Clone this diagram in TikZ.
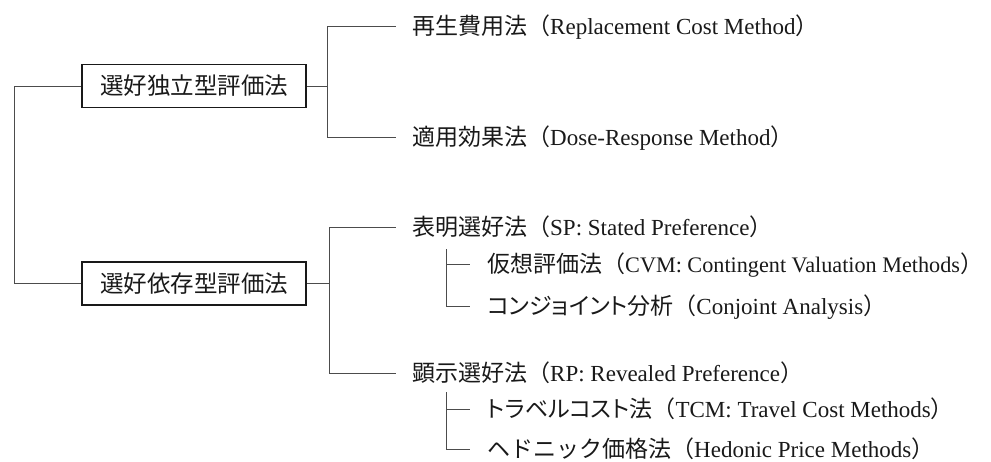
\documentclass[tikz,border=0pt]{standalone}
\usepackage{fontspec}
\setmainfont{Liberation Serif}
\newfontfamily\jp{Noto Sans CJK JP}
\newfontfamily\jpp{Noto Sans CJK JP}[RawFeature=+palt]
\newcommand{\rparen}{\makebox[0.45em][l]{\jp ）}}
\begin{document}
\begin{tikzpicture}[x=1pt,y=-1pt,
  conn/.style={draw=black!70,line width=1pt},
  catbox/.style={draw=black!90,line width=1.5pt,minimum width=224pt,minimum height=43pt,inner sep=0pt,
    font=\jp\fontsize{23.5}{26}\selectfont,text=black!90},
  item/.style={anchor=west,inner sep=0pt,text height=20pt,text depth=2.6pt,
    font=\fontsize{23}{26}\selectfont,text=black!90}]
\useasboundingbox (0,0) rectangle (991,461);
\node[catbox] (b1) at (194,86) {選好独立型評価法};
\node[catbox] (b2) at (194,283.5) {選好依存型評価法};
\node[item] (t1) at (412,26) {{\jp 再生費用法（}Replacement Cost Method\rparen};
\node[item] (t2) at (412,137) {{\jp 適用効果法（}Dose-Response Method\rparen};
\node[item] (t3) at (412,227) {{\jp 表明選好法（}SP: Stated Preference\rparen};
\node[item] (t4) at (487,264) {{\jp 仮想評価法（}{\fontsize{22.2}{26}\selectfont CVM: Contingent Valuation Methods}\rparen};
\node[item] (t5) at (487,306) {{\jpp コンジョイント}{\jp 分析（}Conjoint Analysis\rparen};
\node[item] (t6) at (412,373) {{\jp 顕示選好法（}RP: Revealed Preference\rparen};
\node[item] (t7) at (487,409) {{\jpp トラベルコスト}{\jp 法（}TCM: Travel Cost Methods\rparen};
\node[item] (t8) at (487,449) {{\jp ヘドニック価格法（}Hedonic Price Methods\rparen};
\coordinate (r0) at (14,86);
\coordinate (j1) at (327,86);
\coordinate (j2) at (329,283.5);
\coordinate (s1) at (446,249);
\coordinate (s2) at (446,392);
\draw[conn] (b1.west) -- (r0) |- (b2.west);
\draw[conn] (b1.east) -- (j1);
\draw[conn,shorten >=16pt] (j1) |- (t1.west);
\draw[conn,shorten >=16pt] (j1) |- (t2.west);
\draw[conn] (b2.east) -- (j2);
\draw[conn,shorten >=16pt] (j2) |- (t3.west);
\draw[conn,shorten >=16pt] (j2) |- (t6.west);
\draw[conn,shorten >=17pt] (s1) |- (t4.west);
\draw[conn,shorten >=17pt] (s1) |- (t5.west);
\draw[conn,shorten >=17pt] (s2) |- (t7.west);
\draw[conn,shorten >=17pt] (s2) |- (t8.west);
\end{tikzpicture}
\end{document}
